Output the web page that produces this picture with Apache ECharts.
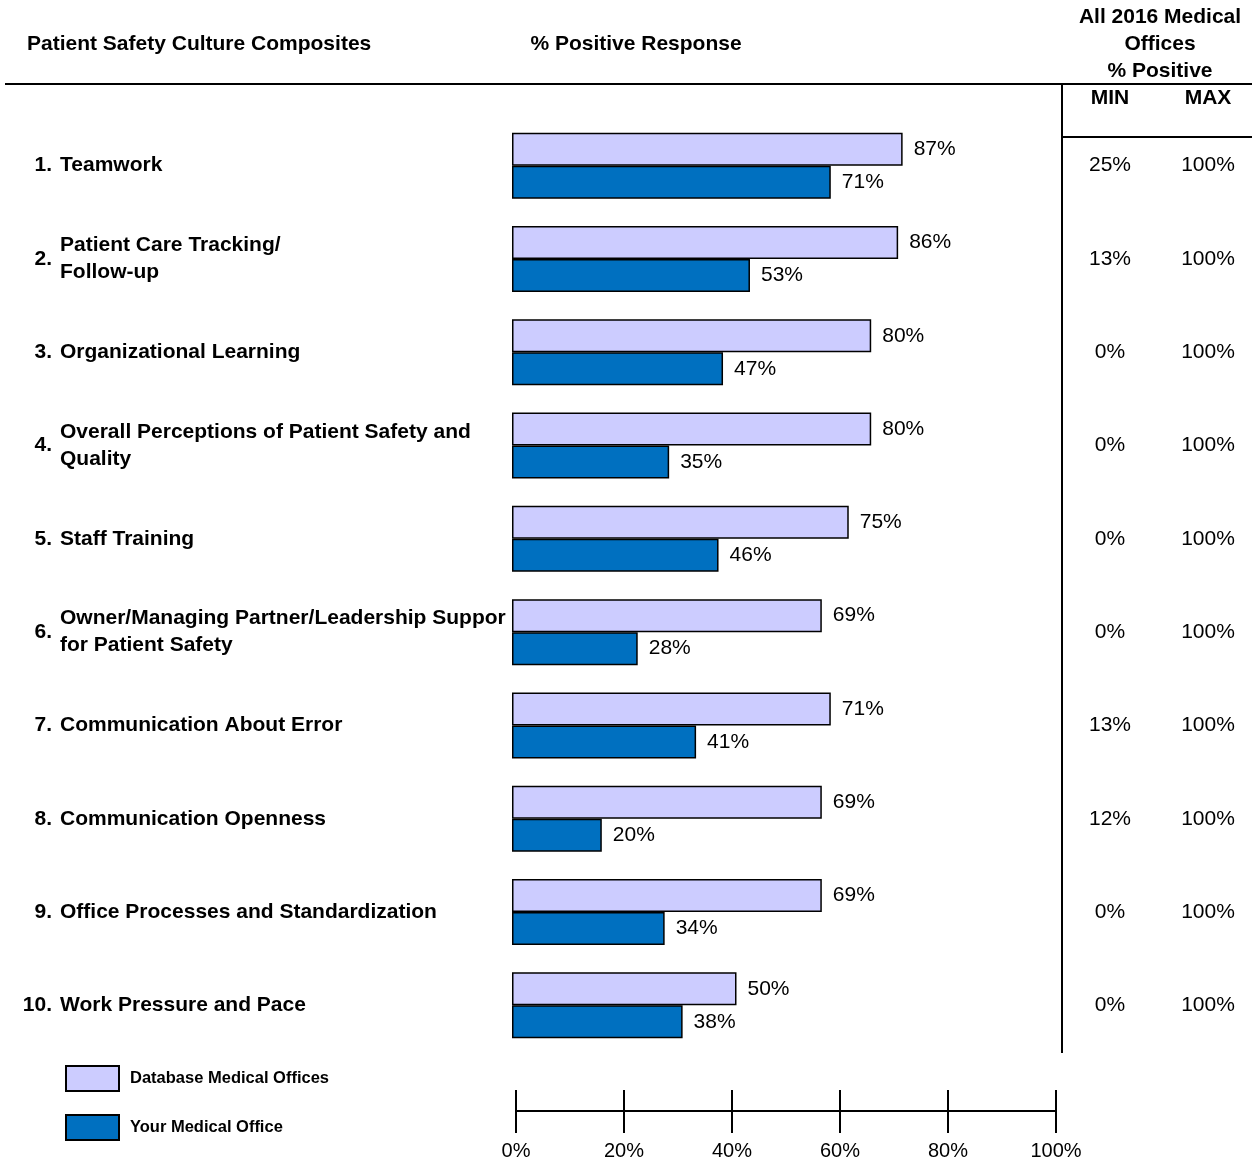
<!DOCTYPE html>
<html>
<head>
<meta charset="utf-8">
<script src="https://cdn.jsdelivr.net/npm/echarts@6/dist/echarts.min.js"></script>
<style>
html,body{margin:0;padding:0;background:#fff;}
#chart{width:1252px;height:1162px;}
</style>
</head>
<body>
<div id="chart"></div>
<script>
const numbers = ['1.', '2.', '3.', '4.', '5.', '6.', '7.', '8.', '9.', '10.'];
const categories = [
  'Teamwork',
  'Patient Care Tracking/\nFollow-up',
  'Organizational Learning',
  'Overall Perceptions of Patient Safety and\nQuality',
  'Staff Training',
  'Owner/Managing Partner/Leadership Support\nfor Patient Safety',
  'Communication About Error',
  'Communication Openness',
  'Office Processes and Standardization',
  'Work Pressure and Pace'
];
const databaseOffices = [87, 86, 80, 80, 75, 69, 71, 69, 69, 50];
const yourOffice = [71, 53, 47, 35, 46, 28, 41, 20, 34, 38];
const minValues = ['25%', '13%', '0%', '0%', '0%', '0%', '13%', '12%', '0%', '0%'];
const maxValues = ['100%', '100%', '100%', '100%', '100%', '100%', '100%', '100%', '100%', '100%'];
const axisTicks = [0, 20, 40, 60, 80, 100];

const FONT = '"Liberation Sans", Arial, sans-serif';
const FS = 21;
const chart = echarts.init(document.getElementById('chart'), null, {renderer: 'canvas'});

const GL = 512, GW = 449, GT = 119, GH = 933;

const option = {
  backgroundColor: '#fff',
  animation: false,
  textStyle: {fontFamily: FONT, color: '#000'},
  grid: [
    {left: GL, top: GT, width: GW, height: GH, containLabel: false, outerBoundsMode: 'none'},
    {left: 516, top: 1090, width: 540, height: 21, containLabel: false, outerBoundsMode: 'none'}
  ],
  legend: {
    orient: 'vertical',
    left: 65, top: 1065, padding: 0,
    itemWidth: 53, itemHeight: 25, itemGap: 22,
    icon: 'rect',
    textStyle: {fontFamily: FONT, fontWeight: 'bold', fontSize: 16.5, color: '#000', padding: [0, 0, 0, 6]},
    data: ['Database Medical Offices', 'Your Medical Office']
  },
  xAxis: [
    {gridIndex: 0, type: 'value', min: 0, max: 100, show: false},
    {
      gridIndex: 1, type: 'value', min: 0, max: 100, interval: 20, position: 'bottom',
      axisLine: {show: true, lineStyle: {color: '#000', width: 2}},
      axisTick: {show: true, inside: false, length: 22, lineStyle: {color: '#000', width: 2}},
      splitLine: {show: true, lineStyle: {color: '#000', width: 2}},
      axisLabel: {show: true, margin: 30, fontSize: FS - 1, color: '#000', fontFamily: FONT,
        formatter: v => axisTicks.includes(v) ? v + '%' : ''}
    }
  ],
  yAxis: [
    {
      gridIndex: 0, type: 'category', data: categories, inverse: true, position: 'left',
      axisLine: {show: false}, axisTick: {show: false}, splitLine: {show: false},
      axisLabel: {interval: 0, align: 'right', margin: GL - 52, fontSize: FS, fontWeight: 'bold',
        color: '#000', fontFamily: FONT, formatter: (v, i) => numbers[i]}
    },
    {
      gridIndex: 0, type: 'category', data: categories, inverse: true, position: 'left',
      axisLine: {show: false}, axisTick: {show: false}, splitLine: {show: false},
      axisLabel: {interval: 0, align: 'left', margin: GL - 60, fontSize: FS, fontWeight: 'bold',
        lineHeight: 27, color: '#000', fontFamily: FONT, width: 452, overflow: 'truncate', ellipsis: ''}
    },
    {
      gridIndex: 0, type: 'category', data: categories, inverse: true, position: 'right',
      axisLine: {show: false}, axisTick: {show: false}, splitLine: {show: false},
      axisLabel: {interval: 0, align: 'center', margin: 1110 - (GL + GW), fontSize: FS,
        color: '#000', fontFamily: FONT, formatter: (v, i) => minValues[i]}
    },
    {
      gridIndex: 0, type: 'category', data: categories, inverse: true, position: 'right',
      axisLine: {show: false}, axisTick: {show: false}, splitLine: {show: false},
      axisLabel: {interval: 0, align: 'center', margin: 1208 - (GL + GW), fontSize: FS,
        color: '#000', fontFamily: FONT, formatter: (v, i) => maxValues[i]}
    },
    {gridIndex: 1, type: 'category', data: [''], show: false}
  ],
  series: [
    {
      name: 'Database Medical Offices', type: 'bar', xAxisIndex: 0, yAxisIndex: 0,
      data: databaseOffices, barWidth: 33, barGap: '0%',
      itemStyle: {color: '#CCCCFF', borderColor: '#000', borderWidth: 1.5},
      label: {show: true, position: 'right', distance: 11, formatter: '{c}%', fontSize: FS, color: '#000', fontFamily: FONT}
    },
    {
      name: 'Your Medical Office', type: 'bar', xAxisIndex: 0, yAxisIndex: 0,
      data: yourOffice, barWidth: 33, barGap: '0%',
      itemStyle: {color: '#0070C0', borderColor: '#000', borderWidth: 1.5},
      label: {show: true, position: 'right', distance: 11, formatter: '{c}%', fontSize: FS, color: '#000', fontFamily: FONT}
    }
  ],
  graphic: [
    {type: 'text', x: 27, y: 44, style: {text: 'Patient Safety Culture Composites', font: 'bold 21px ' + FONT, fill: '#000', verticalAlign: 'middle'}},
    {type: 'text', x: 636, y: 44, style: {text: '% Positive Response', font: 'bold 21px ' + FONT, fill: '#000', align: 'center', verticalAlign: 'middle'}},
    {type: 'text', x: 1160, y: 44, style: {text: 'All 2016 Medical\nOffices\n% Positive', font: 'bold 21px ' + FONT, lineHeight: 27, fill: '#000', align: 'center', verticalAlign: 'middle'}},
    {type: 'text', x: 1110, y: 98, style: {text: 'MIN', font: 'bold 21px ' + FONT, fill: '#000', align: 'center', verticalAlign: 'middle'}},
    {type: 'text', x: 1208, y: 98, style: {text: 'MAX', font: 'bold 21px ' + FONT, fill: '#000', align: 'center', verticalAlign: 'middle'}},
    {type: 'line', shape: {x1: 5, y1: 84, x2: 1252, y2: 84}, style: {stroke: '#000', lineWidth: 2}},
    {type: 'line', shape: {x1: 1062, y1: 84, x2: 1062, y2: 1053}, style: {stroke: '#000', lineWidth: 2}},
    {type: 'line', shape: {x1: 1062, y1: 137, x2: 1252, y2: 137}, style: {stroke: '#000', lineWidth: 2}}
  ]
};
chart.setOption(option);
</script>
</body>
</html>
